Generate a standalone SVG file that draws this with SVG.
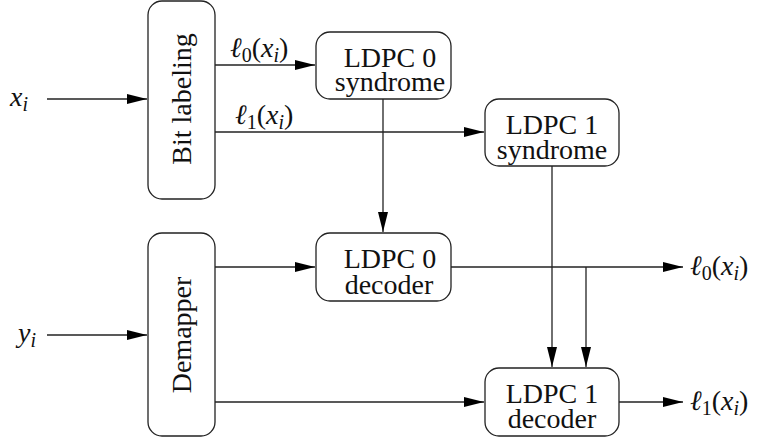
<svg xmlns="http://www.w3.org/2000/svg" width="761" height="440" viewBox="0 0 761 440">
<defs>
<marker id="arr" markerUnits="userSpaceOnUse" markerWidth="20" markerHeight="10" refX="20" refY="5" orient="auto">
<path d="M0,0 L20,5 L0,10 z" fill="#000"/>
</marker>
<style>
.nodebox{fill:#fff;stroke:#222;stroke-width:1.3}
.wire{fill:none;stroke:#222;stroke-width:1.3}
</style>
</defs>
<rect width="761" height="440" fill="#fff"/>
<g id="connectors">
<line class="wire" x1="47" y1="99" x2="147" y2="99" marker-end="url(#arr)"/>
<line class="wire" x1="47" y1="335" x2="147" y2="335" marker-end="url(#arr)"/>
<line class="wire" x1="215" y1="65" x2="315" y2="65" marker-end="url(#arr)"/>
<line class="wire" x1="215" y1="132" x2="484" y2="132" marker-end="url(#arr)"/>
<line class="wire" x1="383" y1="99" x2="383" y2="232" marker-end="url(#arr)"/>
<line class="wire" x1="215" y1="267" x2="315" y2="267" marker-end="url(#arr)"/>
<line class="wire" x1="552" y1="166" x2="552" y2="367" marker-end="url(#arr)"/>
<line class="wire" x1="451" y1="267" x2="683" y2="267" marker-end="url(#arr)"/>
<line class="wire" x1="586" y1="267" x2="586" y2="367" marker-end="url(#arr)"/>
<line class="wire" x1="215" y1="402" x2="484" y2="402" marker-end="url(#arr)"/>
<line class="wire" x1="619" y1="402" x2="683" y2="402" marker-end="url(#arr)"/>
<text font-family="Liberation Serif" font-size="28" font-style="italic" fill="#111" x="230" y="57">ℓ<tspan font-size="20" font-style="normal" dy="5">0</tspan><tspan dy="-5" font-style="normal">(</tspan>x<tspan font-size="20" dy="5">i</tspan><tspan dy="-5" font-style="normal">)</tspan></text>
<text font-family="Liberation Serif" font-size="28" font-style="italic" fill="#111" x="235" y="124">ℓ<tspan font-size="20" font-style="normal" dy="5">1</tspan><tspan dy="-5" font-style="normal">(</tspan>x<tspan font-size="20" dy="5">i</tspan><tspan dy="-5" font-style="normal">)</tspan></text>
</g>
<g id="in_x"><text font-family="Liberation Serif" font-size="28" font-style="italic" fill="#111" x="10" y="106">x<tspan font-size="20" dy="5">i</tspan></text></g>
<g id="in_y"><text font-family="Liberation Serif" font-size="28" font-style="italic" fill="#111" x="18" y="342">y<tspan font-size="20" dy="5">i</tspan></text></g>
<g id="bitlabel">
<rect class="nodebox" x="148" y="1" width="67" height="198" rx="14"/>
<text font-family="Liberation Serif" font-size="28" fill="#111" text-anchor="middle" transform="translate(191,99) rotate(-90)">Bit labeling</text>
</g>
<g id="demapper">
<rect class="nodebox" x="148" y="233" width="67" height="203" rx="14"/>
<text font-family="Liberation Serif" font-size="28" fill="#111" text-anchor="middle" transform="translate(191,335) rotate(-90)">Demapper</text>
</g>
<g id="ldpc0syn">
<rect class="nodebox" x="316" y="32" width="135" height="67" rx="14"/>
<text font-family="Liberation Serif" font-size="28" fill="#111" text-anchor="middle"><tspan x="390" y="67">LDPC 0</tspan><tspan x="390" y="91">syndrome</tspan></text>
</g>
<g id="ldpc1syn">
<rect class="nodebox" x="485" y="99" width="134" height="67" rx="14"/>
<text font-family="Liberation Serif" font-size="28" fill="#111" text-anchor="middle"><tspan x="552" y="134">LDPC 1</tspan><tspan x="552" y="159">syndrome</tspan></text>
</g>
<g id="ldpc0dec">
<rect class="nodebox" x="316" y="233" width="135" height="68" rx="14"/>
<text font-family="Liberation Serif" font-size="28" fill="#111" text-anchor="middle"><tspan x="390" y="268">LDPC 0</tspan><tspan x="389" y="294">decoder</tspan></text>
</g>
<g id="ldpc1dec">
<rect class="nodebox" x="485" y="368" width="134" height="68" rx="14"/>
<text font-family="Liberation Serif" font-size="28" fill="#111" text-anchor="middle"><tspan x="552" y="403">LDPC 1</tspan><tspan x="552" y="428">decoder</tspan></text>
</g>
<g id="out0"><text font-family="Liberation Serif" font-size="28" font-style="italic" fill="#111" x="690" y="275">ℓ<tspan font-size="20" font-style="normal" dy="5">0</tspan><tspan dy="-5" font-style="normal">(</tspan>x<tspan font-size="20" dy="5">i</tspan><tspan dy="-5" font-style="normal">)</tspan></text></g>
<g id="out1"><text font-family="Liberation Serif" font-size="28" font-style="italic" fill="#111" x="690" y="410">ℓ<tspan font-size="20" font-style="normal" dy="5">1</tspan><tspan dy="-5" font-style="normal">(</tspan>x<tspan font-size="20" dy="5">i</tspan><tspan dy="-5" font-style="normal">)</tspan></text></g>
</svg>
